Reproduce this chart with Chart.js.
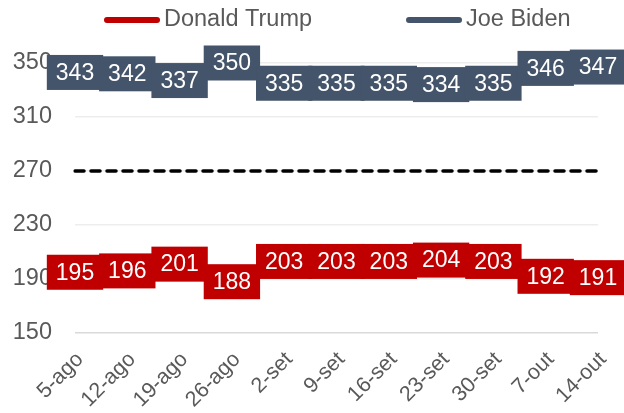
<!DOCTYPE html>
<html><head><meta charset="utf-8">
<script src="https://cdn.jsdelivr.net/npm/chart.js@4/dist/chart.umd.min.js"></script>
<style>html,body{margin:0;padding:0;background:#fff}</style>
</head><body>
<canvas id="c" width="624" height="413"></canvas>
<script>
const categories = ['5-ago','12-ago','19-ago','26-ago','2-set','9-set','16-set','23-set','30-set','7-out','14-out'];
const trumpVotes = [195,196,201,188,203,203,203,204,203,192,191];
const bidenVotes = [343,342,337,350,335,335,335,334,335,346,347];
const majorityLine = [270,270,270,270,270,270,270,270,270,270,270];
const yTickValues = [150,190,230,270,310,350];
const seriesNames = ['Donald Trump','Joe Biden'];

const FONT = "'Liberation Sans', Arial, sans-serif";
const RED = '#C00000', BLUE = '#44546A', GREY = '#595959';

const boxLabels = {
  id: 'boxLabels',
  afterDatasetsDraw(chart) {
    const ctx = chart.ctx;
    ctx.save();
    ctx.font = '23px ' + FONT;
    chart.data.datasets.forEach((ds, i) => {
      if (!ds.boxLabel) return;
      const meta = chart.getDatasetMeta(i);
      meta.data.forEach((pt, j) => {
        const txt = String(ds.data[j]);
        const w = ctx.measureText(txt).width + 18, h = 35;
        ctx.fillStyle = ds.borderColor;
        ctx.fillRect(pt.x - w / 2, pt.y - h / 2, w, h);
        ctx.fillStyle = '#FFFFFF';
        ctx.textAlign = 'center';
        ctx.textBaseline = 'middle';
        ctx.fillText(txt, pt.x, pt.y + 1);
      });
    });
    ctx.restore();
  }
};

const customLegend = {
  id: 'customLegend',
  afterDraw(chart) {
    const ctx = chart.ctx;
    ctx.save();
    ctx.font = '23.5px ' + FONT;
    ctx.textBaseline = 'middle';
    ctx.textAlign = 'left';
    const y = 20;
    let x = 107;
    chart.data.datasets.forEach(ds => {
      if (!ds.inLegend) return;
      ctx.strokeStyle = ds.borderColor;
      ctx.lineWidth = 6;
      ctx.lineCap = 'round';
      ctx.beginPath();
      ctx.moveTo(x, y);
      ctx.lineTo(x + 50, y);
      ctx.stroke();
      const tx = x + 57;
      ctx.fillStyle = GREY;
      ctx.fillText(ds.label, tx, y);
      x = tx + ctx.measureText(ds.label).width + 97;
    });
    ctx.restore();
  }
};

new Chart(document.getElementById('c'), {
  type: 'line',
  data: {
    labels: categories,
    datasets: [
      { label: seriesNames[0], data: trumpVotes, borderColor: RED, backgroundColor: RED, borderWidth: 3, pointRadius: 0, boxLabel: true, inLegend: true },
      { label: seriesNames[1], data: bidenVotes, borderColor: BLUE, backgroundColor: BLUE, borderWidth: 3, pointRadius: 0, boxLabel: true, inLegend: true },
      { label: 'Maioria', data: majorityLine, borderColor: '#000000', borderWidth: 3.5, borderDash: [9, 7], borderCapStyle: 'round', pointRadius: 0 }
    ]
  },
  options: {
    responsive: false,
    animation: false,
    devicePixelRatio: 1,
    layout: { padding: { top: 63, right: 26, left: 0, bottom: 0 } },
    plugins: { legend: { display: false }, tooltip: { enabled: false } },
    scales: {
      x: {
        offset: false,
        grid: { display: false, drawTicks: false },
        border: { display: false },
        ticks: { color: GREY, font: { family: FONT, size: 21.5 }, minRotation: 45, maxRotation: 45, padding: 14, labelOffset: 5, autoSkip: false },
        afterFit(s) { s.height = 80; s.paddingLeft = 0; s.paddingRight = 0; }
      },
      y: {
        min: 150, max: 350,
        grid: { drawTicks: false, color: ctx => ctx.tick && ctx.tick.value === 150 ? '#D9D9D9' : '#EDEDED', lineWidth: 1.5 },
        border: { display: false },
        ticks: { color: GREY, font: { family: FONT, size: 23.5 }, padding: 23 },
        afterBuildTicks(s) { s.ticks = yTickValues.map(v => ({ value: v })); },
        afterFit(s) { s.width = 75; s.paddingTop = 0; s.paddingBottom = 0; }
      }
    }
  },
  plugins: [boxLabels, customLegend]
});
</script>
</body></html>
